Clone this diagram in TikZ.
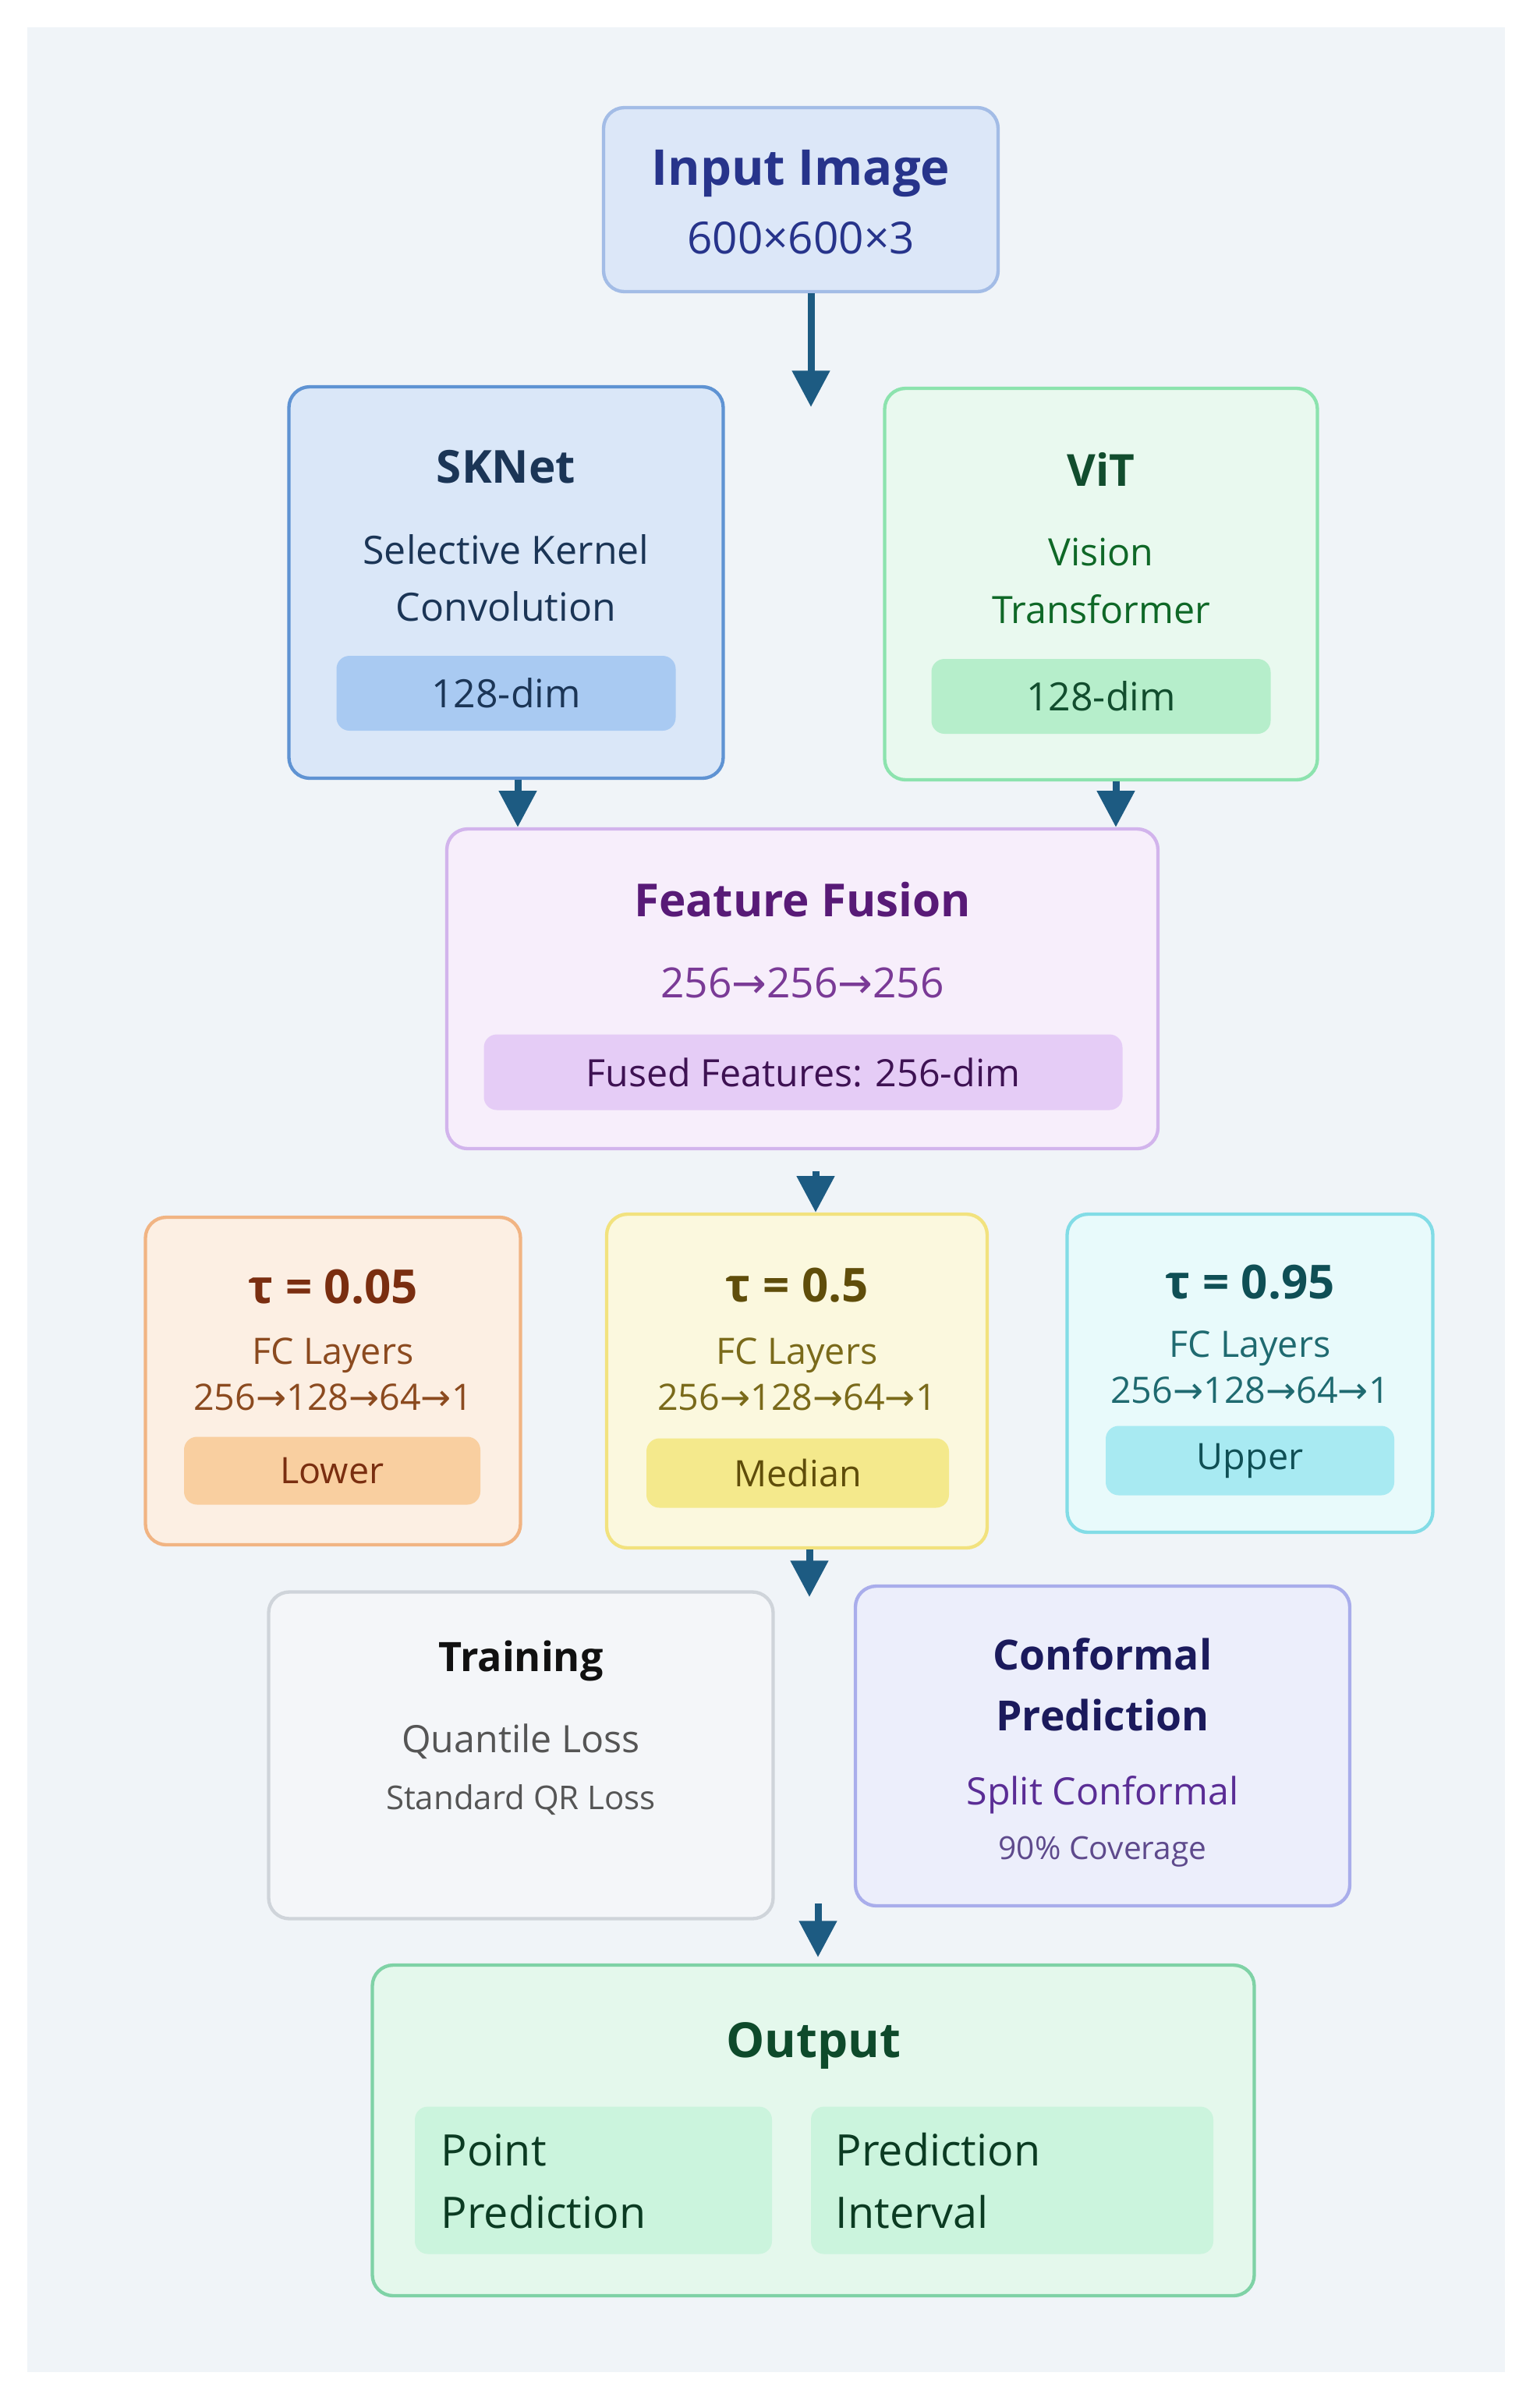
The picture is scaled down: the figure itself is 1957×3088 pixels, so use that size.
\documentclass[tikz,border=0pt]{standalone}
\usepackage{fontspec}
\setmainfont{Open Sans}
\newfontfamily\arrowfont{DejaVu Sans}
\usetikzlibrary{arrows.meta, positioning}
\newcommand\pxu{0.3pt}
\newcommand\toarr{{\arrowfont →}}
\definecolor{pagebg}{HTML}{F0F4F8}
\definecolor{flowc}{HTML}{1D5B82}
\definecolor{inpfill}{HTML}{DCE7F8}\definecolor{inpdraw}{HTML}{A3BCE6}\definecolor{inptext}{HTML}{27348B}
\definecolor{skfill}{HTML}{DAE7F8}\definecolor{skdraw}{HTML}{5F93D3}\definecolor{sktext}{HTML}{1B3556}\definecolor{skin}{HTML}{A9CAF2}
\definecolor{vitfill}{HTML}{E9F9EF}\definecolor{vitdraw}{HTML}{8CE3AE}\definecolor{vittext}{HTML}{124D2E}\definecolor{vitin}{HTML}{B6EECB}
\definecolor{fusfill}{HTML}{F7EEFB}\definecolor{fusdraw}{HTML}{D2B4EC}\definecolor{fustext}{HTML}{581A77}\definecolor{fussub}{HTML}{7A3A96}\definecolor{fusin}{HTML}{E5CCF6}
\definecolor{lofill}{HTML}{FCEFE3}\definecolor{lodraw}{HTML}{F1B483}\definecolor{lotext}{HTML}{7A2E10}\definecolor{losub}{HTML}{8B4A1F}\definecolor{loin}{HTML}{F9CFA0}
\definecolor{mdfill}{HTML}{FBF8DE}\definecolor{mddraw}{HTML}{F2E27E}\definecolor{mdtext}{HTML}{5F4D0A}\definecolor{mdsub}{HTML}{7A6A1A}\definecolor{mdin}{HTML}{F4E98C}
\definecolor{upfill}{HTML}{E8FAFB}\definecolor{updraw}{HTML}{82DCE6}\definecolor{uptext}{HTML}{0F4F55}\definecolor{upsub}{HTML}{1F6A70}\definecolor{upin}{HTML}{A8EAF2}
\definecolor{trfill}{HTML}{F4F6F9}\definecolor{trdraw}{HTML}{CFD4DA}\definecolor{trtext}{HTML}{111111}\definecolor{trsub}{HTML}{555555}
\definecolor{cpfill}{HTML}{ECEEFB}\definecolor{cpdraw}{HTML}{A9ADEB}\definecolor{cptext}{HTML}{1B1A5C}\definecolor{cpsub}{HTML}{5A2D95}\definecolor{cpsmall}{HTML}{5E4A8C}
\definecolor{oufill}{HTML}{E4F8EC}\definecolor{oudraw}{HTML}{7FD2A6}\definecolor{outext}{HTML}{0E4A2B}\definecolor{ouin}{HTML}{CBF4DD}
\tikzset{
  card/.style n args={4}{draw=#2,fill=#1,rounded corners=8pt,line width=1.3pt,minimum width=#3*\pxu,minimum height=#4*\pxu},
  tag/.style n args={3}{fill=#1,rounded corners=5pt,inner sep=0pt,minimum width=#2*\pxu,minimum height=#3*\pxu},
  lbl/.style={inner sep=0pt,align=center},
  flow/.style={-{Triangle[length=14pt,width=14pt]},line width=2.7pt,draw=flowc}
}

\begin{document}
\begin{tikzpicture}[x=\pxu,y=-\pxu]
\useasboundingbox (0,0) rectangle (1957,3088);
\fill[white] (0,0) rectangle (1957,3088);
\fill[pagebg] (35,35) rectangle (1930,3042);

% input
\node[card={inpfill}{inpdraw}{506}{236}] (inp) at (1027,256) {};
\node[lbl,text=inptext,font=\fontsize{19}{23}\selectfont\bfseries] (inpt) at (1027,222) {Input Image};
\node[lbl,text=inptext,font=\fontsize{17}{20}\selectfont] (inps) at (1027,305) {600×600×3};

% backbones
\node[card={skfill}{skdraw}{557}{502}] (sk) at (649,747) {};
\node[lbl,text=sktext,font=\fontsize{17.5}{21}\selectfont\bfseries] (skt) at (649,599) {SKNet};
\node[lbl,text=sktext,font=\fontsize{15}{22}\selectfont] (sks) at (649,741) {Selective Kernel\\Convolution};
\node[tag={skin}{435}{96},text=sktext,font=\fontsize{15}{18}\selectfont] (skd) at (649,889) {128-dim};

\node[card={vitfill}{vitdraw}{555}{502}] (vit) at (1412,749) {};
\node[lbl,text=vittext,font=\fontsize{17}{21}\selectfont\bfseries] (vitt) at (1412,602) {ViT};
\node[lbl,text=vittext!85!green,font=\fontsize{14.5}{22}\selectfont] (vits) at (1412,745) {Vision\\Transformer};
\node[tag={vitin}{435}{96},text=vittext,font=\fontsize{15}{18}\selectfont] (vitd) at (1412,893) {128-dim};

% fusion
\node[card={fusfill}{fusdraw}{912}{410}] (fus) at (1029,1268) {};
\node[lbl,text=fustext,font=\fontsize{17.5}{21}\selectfont\bfseries] (fust) at (1029,1154) {Feature Fusion};
\node[lbl,text=fussub,font=\fontsize{16}{19}\selectfont] (fuss) at (1029,1260) {256\toarr256\toarr256};
\node[tag={fusin}{819}{97},text=fustext!70!black,font=\fontsize{14.5}{18}\selectfont] (fusd) at (1030,1375) {Fused Features: 256-dim};

% quantile heads
\node[card={lofill}{lodraw}{481}{420}] (lo) at (427,1771) {};
\node[lbl,text=lotext,font=\fontsize{18}{21}\selectfont\bfseries] (lot) at (427,1650) {τ = 0.05};
\node[lbl,text=losub,font=\fontsize{14}{17.7}\selectfont] (los) at (427,1762) {FC Layers\\256\toarr128\toarr64\toarr1};
\node[tag={loin}{380}{87},text=lotext,font=\fontsize{14}{17}\selectfont] (lod) at (426,1886) {Lower};

\node[card={mdfill}{mddraw}{488}{428}] (md) at (1022,1771) {};
\node[lbl,text=mdtext,font=\fontsize{18}{21}\selectfont\bfseries] (mdt) at (1022,1648) {τ = 0.5};
\node[lbl,text=mdsub,font=\fontsize{14}{17.7}\selectfont] (mds) at (1022,1762) {FC Layers\\256\toarr128\toarr64\toarr1};
\node[tag={mdin}{388}{89},text=mdtext,font=\fontsize{14}{17}\selectfont] (mdd) at (1023,1889) {Median};

\node[card={upfill}{updraw}{469}{408}] (up) at (1603,1761) {};
\node[lbl,text=uptext,font=\fontsize{18}{21}\selectfont\bfseries] (upt) at (1603,1644) {τ = 0.95};
\node[lbl,text=upsub,font=\fontsize{14}{17.7}\selectfont] (ups) at (1603,1753) {FC Layers\\256\toarr128\toarr64\toarr1};
\node[tag={upin}{370}{89},text=uptext,font=\fontsize{14}{17}\selectfont] (upd) at (1603,1873) {Upper};

% training / conformal
\node[card={trfill}{trdraw}{647}{419}] (tr) at (668,2251) {};
\node[lbl,text=trtext,font=\fontsize{15.6}{19}\selectfont\bfseries] (trt) at (668,2130) {Training};
\node[lbl,text=trsub,font=\fontsize{14.5}{17}\selectfont] (trs) at (668,2233) {Quantile Loss};
\node[lbl,text=trsub,font=\fontsize{12.6}{15}\selectfont] (trq) at (668,2308) {Standard QR Loss};

\node[card={cpfill}{cpdraw}{634}{410}] (cp) at (1414,2239) {};
\node[lbl,text=cptext,font=\fontsize{16}{23.4}\selectfont\bfseries] (cpt) at (1414,2160) {Conformal\\Prediction};
\node[lbl,text=cpsub,font=\fontsize{14.5}{17}\selectfont] (cps) at (1414,2302) {Split Conformal};
\node[lbl,text=cpsmall,font=\fontsize{12.2}{14}\selectfont] (cpc) at (1414,2375) {90\% Coverage};

% output
\node[card={oufill}{oudraw}{1131}{424}] (out) at (1043,2732) {};
\node[lbl,text=outext,font=\fontsize{18.6}{22}\selectfont\bfseries] (outt) at (1043,2623) {Output};
\node[tag={ouin}{458}{189}] (pp) at (761,2796) {};
\node[tag={ouin}{516}{189}] (pi) at (1298,2796) {};
\node[lbl,align=left,anchor=west,text=outext!80!black,font=\fontsize{16.7}{24}\selectfont] (ppt) at (565,2797) {Point\\Prediction};
\node[lbl,align=left,anchor=west,text=outext!80!black,font=\fontsize{16.7}{24}\selectfont] (pit) at (1071,2797) {Prediction\\Interval};

% connectors
\coordinate (e1) at (1040,522);
\coordinate (x2) at (664,0);
\coordinate (x3) at (1431,0);
\coordinate (s4) at (1046,1502);
\coordinate (e5) at (1038,2048);
\coordinate (s6) at (1049,2441);
\coordinate (e6) at (1049,2510);
\draw[flow] (inp.south -| e1) -- (e1);
\draw[flow] (sk.south -| x2) -- (fus.north -| x2);
\draw[flow] (vit.south -| x3) -- (fus.north -| x3);
\draw[flow] (s4) -- (s4 |- md.north);
\draw[flow] (md.south -| e5) -- (e5);
\draw[flow] (s6) -- (e6);
\end{tikzpicture}
\end{document}
